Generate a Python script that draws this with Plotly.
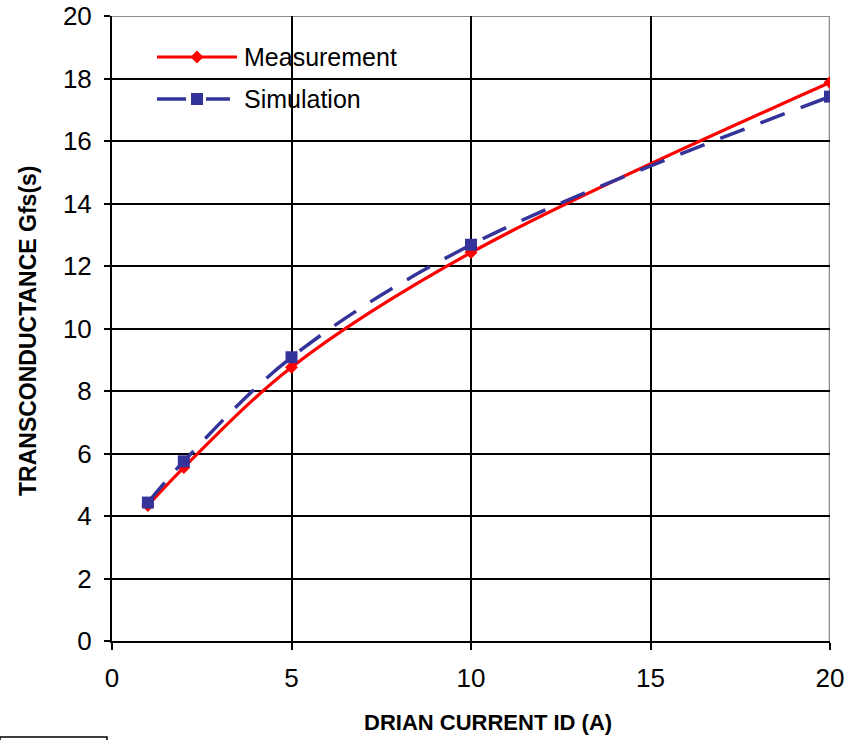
import plotly.graph_objects as go

# ---- data ----
drain_current = [1, 2, 5, 10, 20]
measurement = [4.34, 5.55, 8.76, 12.43, 17.87]
simulation = [4.43, 5.75, 9.08, 12.68, 17.42]
series_names = ["Measurement", "Simulation"]
x_ticks = [0, 5, 10, 15, 20]
y_ticks = [0, 2, 4, 6, 8, 10, 12, 14, 16, 18, 20]

RED = "#FF0000"
BLUE = "#333399"
FONT = "Liberation Sans, Arial, sans-serif"

W, H = 849, 740
L, R, T, B = 112, 19, 16, 99

fig = go.Figure()

fig.add_trace(go.Scatter(
    x=drain_current, y=measurement, mode="lines+markers", name=series_names[0],
    line=dict(color=RED, width=3.2, shape="spline", smoothing=1),
    marker=dict(symbol="diamond", size=10, color=RED),
    showlegend=False))
fig.add_trace(go.Scatter(
    x=drain_current, y=simulation, mode="lines+markers", name=series_names[1],
    line=dict(color=BLUE, width=3.5, dash="26px,17px", shape="spline", smoothing=1),
    marker=dict(symbol="square", size=12, color=BLUE),
    showlegend=False))

# ---- manual legend on a hidden pixel-coordinate overlay axis ----
px_x = [L, W - R]
px_y = [H - B, T]
leg_rows = [57, 99]
fig.add_trace(go.Scatter(x=[157, 237], y=[leg_rows[0]] * 2, mode="lines",
                         line=dict(color=RED, width=3.2), xaxis="x2", yaxis="y2",
                         showlegend=False, hoverinfo="skip"))
fig.add_trace(go.Scatter(x=[197], y=[leg_rows[0]], mode="markers",
                         marker=dict(symbol="diamond", size=10, color=RED),
                         xaxis="x2", yaxis="y2", showlegend=False, hoverinfo="skip"))
fig.add_trace(go.Scatter(x=[157, 186], y=[leg_rows[1]] * 2, mode="lines",
                         line=dict(color=BLUE, width=3.5), xaxis="x2", yaxis="y2",
                         showlegend=False, hoverinfo="skip"))
fig.add_trace(go.Scatter(x=[206, 230], y=[leg_rows[1]] * 2, mode="lines",
                         line=dict(color=BLUE, width=3.5), xaxis="x2", yaxis="y2",
                         showlegend=False, hoverinfo="skip"))
fig.add_trace(go.Scatter(x=[197], y=[leg_rows[1]], mode="markers",
                         marker=dict(symbol="square", size=12, color=BLUE),
                         xaxis="x2", yaxis="y2", showlegend=False, hoverinfo="skip"))

annotations = []
for name, row in zip(series_names, leg_rows):
    annotations.append(dict(x=242, y=row, xref="x2", yref="y2", text=name,
                            showarrow=False, xanchor="left", yanchor="middle",
                            font=dict(family=FONT, size=25, color="black")))

pw = W - L - R
ph = H - T - B
# axis titles
annotations.append(dict(x=(488 - L) / pw, y=(H - B - 722) / ph, xref="paper", yref="paper",
                        text="<b>DRIAN CURRENT ID (A)</b>", showarrow=False,
                        xanchor="center", yanchor="middle",
                        font=dict(family=FONT, size=22, color="black")))
annotations.append(dict(x=(28 - L) / pw, y=(H - B - 331) / ph, xref="paper", yref="paper",
                        text="<b>TRANSCONDUCTANCE Gfs(s)</b>", showarrow=False,
                        textangle=-90, xanchor="center", yanchor="middle",
                        font=dict(family=FONT, size=23, color="black")))

shapes = [
    # legend background (above gridlines, below traces)
    dict(type="rect", xref="x2", yref="y2", x0=127, x1=424, y0=35, y1=121,
         fillcolor="white", line=dict(width=0), layer="below"),
    # top and right frame (grey)
    dict(type="line", xref="x", yref="y", x0=0, x1=20, y0=20, y1=20,
         line=dict(color="#8c8c8c", width=2), layer="below"),
    dict(type="line", xref="x", yref="y", x0=20, x1=20, y0=0, y1=20,
         line=dict(color="#8c8c8c", width=2.5), layer="below"),
    # stray box at bottom-left
    dict(type="rect", xref="paper", yref="paper",
         x0=(0 - L) / pw, x1=(107 - L) / pw,
         y0=(H - B - 737) / ph, y1=(H - B - 760) / ph,
         line=dict(color="black", width=1.5), fillcolor="rgba(0,0,0,0)"),
]

fig.update_layout(
    width=W, height=H,
    margin=dict(l=L, r=R, t=T, b=B, autoexpand=False),
    paper_bgcolor="white", plot_bgcolor="white",
    font=dict(family=FONT, color="black"),
    showlegend=False,
    annotations=annotations,
    shapes=shapes,
    xaxis=dict(range=[0, 20], tickvals=x_ticks, showgrid=True, gridcolor="black",
               gridwidth=1.5, zeroline=False, showline=True, linecolor="black",
               linewidth=2, ticks="outside", ticklen=7, tickwidth=1.5,
               tickcolor="black", tickfont=dict(family=FONT, size=26),
               ticklabelstandoff=6, automargin=False, fixedrange=True),
    yaxis=dict(range=[0, 20], tickvals=y_ticks, showgrid=True, gridcolor="black",
               gridwidth=1.5, zeroline=False, showline=True, linecolor="black",
               linewidth=2, ticks="outside", ticklen=6, tickwidth=1.5,
               tickcolor="black", tickfont=dict(family=FONT, size=26),
               ticklabelstandoff=7, automargin=False, fixedrange=True),
    xaxis2=dict(range=px_x, overlaying="x", visible=False, fixedrange=True),
    yaxis2=dict(range=px_y, overlaying="y", visible=False, fixedrange=True),
)

fig.write_html("out.html")
